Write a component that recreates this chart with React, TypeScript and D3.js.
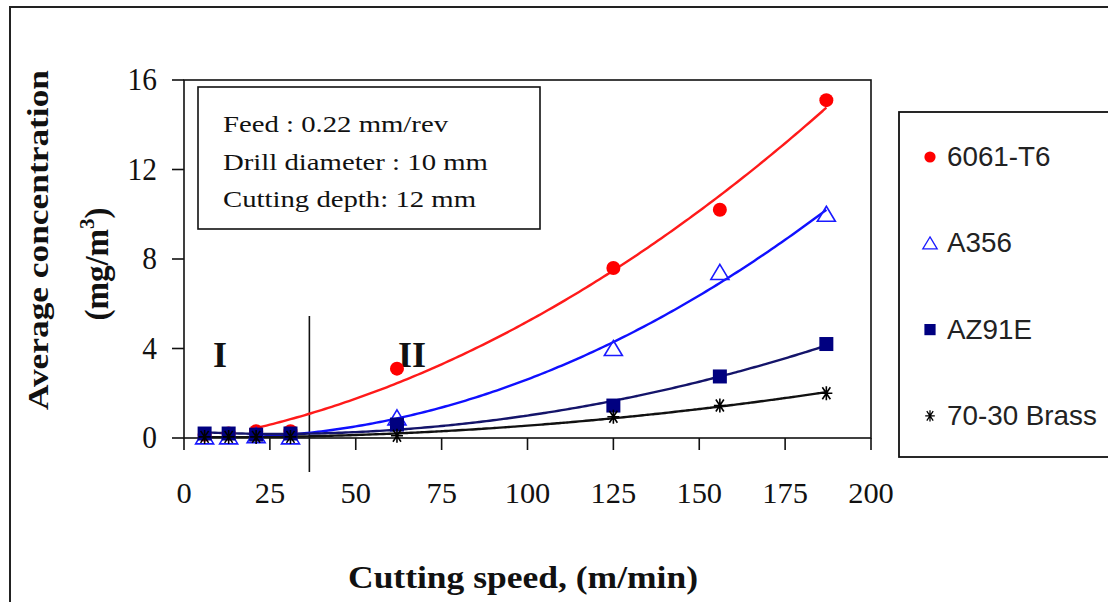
import React from "react";
import * as d3 from "d3";

// cutting speed (m/min) of each measurement
const speeds = [6, 13, 21, 31, 62, 125, 156, 187];

// average concentration (mg/m3) per alloy
const al6061 = [0.15, 0.2, 0.3, 0.3, 3.1, 7.6, 10.2, 15.1];
const a356 = [0.05, 0.05, 0.1, 0.05, 0.9, 4.0, 7.4, 10.0];
const az91e = [0.2, 0.2, 0.15, 0.2, 0.6, 1.45, 2.75, 4.2];
const brass = [0.05, 0.05, 0.05, 0.05, 0.1, 0.95, 1.45, 2.0];

const seriesNames = ["6061-T6", "A356", "AZ91E", "70-30 Brass"];
const xTicks = [0, 25, 50, 75, 100, 125, 150, 175, 200];
const yTicks = [0, 4, 8, 12, 16];
const notes = ["Feed : 0.22 mm/rev", "Drill diameter : 10 mm", "Cutting depth: 12 mm"];

const serif = "'Liberation Serif', 'Times New Roman', serif";
const sans = "'Liberation Sans', Arial, sans-serif";

// least squares quadratic, like an Excel polynomial trendline
function quadFit(xs: number[], ys: number[]) {
  let s = [0, 0, 0, 0, 0];
  let t = [0, 0, 0];
  xs.forEach((x, i) => {
    for (let k = 0; k < 5; k++) s[k] += Math.pow(x, k);
    for (let k = 0; k < 3; k++) t[k] += ys[i] * Math.pow(x, k);
  });
  const m = [
    [s[0], s[1], s[2], t[0]],
    [s[1], s[2], s[3], t[1]],
    [s[2], s[3], s[4], t[2]],
  ];
  for (let i = 0; i < 3; i++) {
    for (let j = i + 1; j < 3; j++) {
      const f = m[j][i] / m[i][i];
      for (let k = i; k < 4; k++) m[j][k] -= f * m[i][k];
    }
  }
  const c = [0, 0, 0];
  for (let i = 2; i >= 0; i--) {
    let v = m[i][3];
    for (let k = i + 1; k < 3; k++) v -= m[i][k] * c[k];
    c[i] = v / m[i][i];
  }
  return (x: number) => c[0] + c[1] * x + c[2] * x * x;
}

// text with an optional sideways stretch (the source picture is a bit distorted)
function Txt(props: any) {
  const { x, y, sx = 1, rotate, children, ...rest } = props;
  return (
    <g transform={`translate(${x},${y}) scale(${sx},1)${rotate ? ` rotate(${rotate})` : ""}`}>
      <text {...rest}>{children}</text>
    </g>
  );
}

function Marker({ type, x, y }: { type: string; x: number; y: number }) {
  if (type === "circle") return <circle cx={x} cy={y} r={7} fill="#ff0000" />;
  if (type === "triangle")
    return (
      <path
        d={`M${x},${y - 8}L${x + 9},${y + 7}L${x - 9},${y + 7}Z`}
        fill="none"
        stroke="#1a1aff"
        strokeWidth={1.6}
      />
    );
  if (type === "square") return <rect x={x - 7} y={y - 7} width={14} height={14} fill="#000080" />;
  return (
    <path
      d={`M${x - 6},${y}L${x + 6},${y}M${x - 4},${y - 6}L${x + 4},${y + 6}M${x + 4},${y - 6}L${x - 4},${y + 6}M${x},${y - 7}L${x},${y + 7}`}
      stroke="#000"
      strokeWidth={1.6}
    />
  );
}

export default function App() {
  const left = 184, right = 871, top = 80, bottom = 438;
  const x = d3.scaleLinear().domain([0, 200]).range([left, right]);
  const y = d3.scaleLinear().domain([0, 16]).range([bottom, top]);

  const series = [
    { name: seriesNames[0], vals: al6061, marker: "circle", color: "#ff1a1a", from: 19 },
    { name: seriesNames[1], vals: a356, marker: "triangle", color: "#1010ff", from: 6 },
    { name: seriesNames[2], vals: az91e, marker: "square", color: "#14146a", from: 6 },
    { name: seriesNames[3], vals: brass, marker: "star", color: "#111", from: 6 },
  ];

  const line = d3
    .line<number[]>()
    .x((d) => x(d[0]))
    .y((d) => y(d[1]))
    .curve(d3.curveBasis);

  return (
    <div style={{ position: "absolute", left: 0, top: 0 }}>
      <svg width={1108} height={602} style={{ display: "block", background: "#fff" }}>
        <defs>
          <clipPath id="plot">
            <rect x={left} y={top} width={right - left} height={bottom - top} />
          </clipPath>
        </defs>
        <rect x={10} y={7} width={1110} height={610} fill="none" stroke="#222" strokeWidth={2} />

        {/* plot frame */}
        <rect x={left} y={top} width={right - left} height={bottom - top} fill="none" stroke="#111" strokeWidth={1.6} />
        {yTicks.map((t) => (
          <g key={"y" + t}>
            <line x1={left - 12} x2={left} y1={y(t)} y2={y(t)} stroke="#111" strokeWidth={1.6} />
            <Txt x={157} y={y(t) + 10} sx={0.95} fontFamily={serif} fontSize={31} textAnchor="end" fill="#111">
              {t}
            </Txt>
          </g>
        ))}
        {xTicks.map((t) => (
          <g key={"x" + t}>
            <line x1={x(t)} x2={x(t)} y1={bottom} y2={bottom + 12} stroke="#111" strokeWidth={1.6} />
            <Txt x={x(t)} y={503} sx={1.05} fontFamily={serif} fontSize={29} textAnchor="middle" fill="#111">
              {t}
            </Txt>
          </g>
        ))}

        {/* regime divider */}
        <line x1={x(36.5)} x2={x(36.5)} y1={316} y2={472} stroke="#111" strokeWidth={1.6} />
        <Txt x={220} y={367} fontFamily={serif} fontSize={36} fontWeight="bold" textAnchor="middle" fill="#111">
          I
        </Txt>
        <Txt x={412} y={367} fontFamily={serif} fontSize={36} fontWeight="bold" textAnchor="middle" fill="#111">
          II
        </Txt>

        {/* trend lines */}
        <g clipPath="url(#plot)">
          {series.map((s) => {
            const f = quadFit(speeds, s.vals);
            const pts = d3.range(s.from, 188, 1).map((v) => [v, Math.max(0, f(v))]);
            return <path key={s.name} d={line(pts) || ""} fill="none" stroke={s.color} strokeWidth={2.4} />;
          })}
        </g>

        {/* markers */}
        {series.map((s) => (
          <g key={"m" + s.name}>
            {s.vals.map((v, i) => (
              <Marker key={i} type={s.marker} x={x(speeds[i])} y={y(v)} />
            ))}
          </g>
        ))}

        {/* conditions box */}
        <rect x={198} y={87} width={342} height={142} fill="#fff" stroke="#111" strokeWidth={1.6} />
        {notes.map((n, i) => (
          <Txt key={n} x={223} y={132 + i * 37.5} sx={1.25} fontFamily={serif} fontSize={23} fill="#111">
            {n}
          </Txt>
        ))}

        {/* legend */}
        <rect x={899} y={112} width={220} height={345} fill="none" stroke="#111" strokeWidth={1.8} />
        {series.map((s, i) => (
          <g key={"l" + s.name}>
            <g transform={`translate(930,${157 + i * 86.3}) scale(0.8)`}>
              <Marker type={s.marker} x={0} y={0} />
            </g>
            <Txt x={947} y={166 + i * 86.3} sx={1.03} fontFamily={sans} fontSize={27} fill="#222">
              {s.name}
            </Txt>
          </g>
        ))}

        {/* axis titles */}
        <Txt x={48} y={240} rotate={-90} fontFamily={serif} fontSize={29} fontWeight="bold" textAnchor="middle" fill="#111" textLength={340} lengthAdjust="spacingAndGlyphs">
          Average concentration
        </Txt>
        <Txt x={108} y={264} rotate={-90} fontFamily={serif} fontSize={33} fontWeight="bold" textAnchor="middle" fill="#111">
          (mg/m<tspan dy={-14} fontSize={21}>3</tspan>
          <tspan dy={14}>)</tspan>
        </Txt>
        <Txt x={523} y={588} fontFamily={serif} fontSize={32} fontWeight="bold" textAnchor="middle" fill="#111" textLength={350} lengthAdjust="spacingAndGlyphs">
          Cutting speed, (m/min)
        </Txt>
      </svg>
    </div>
  );
}
